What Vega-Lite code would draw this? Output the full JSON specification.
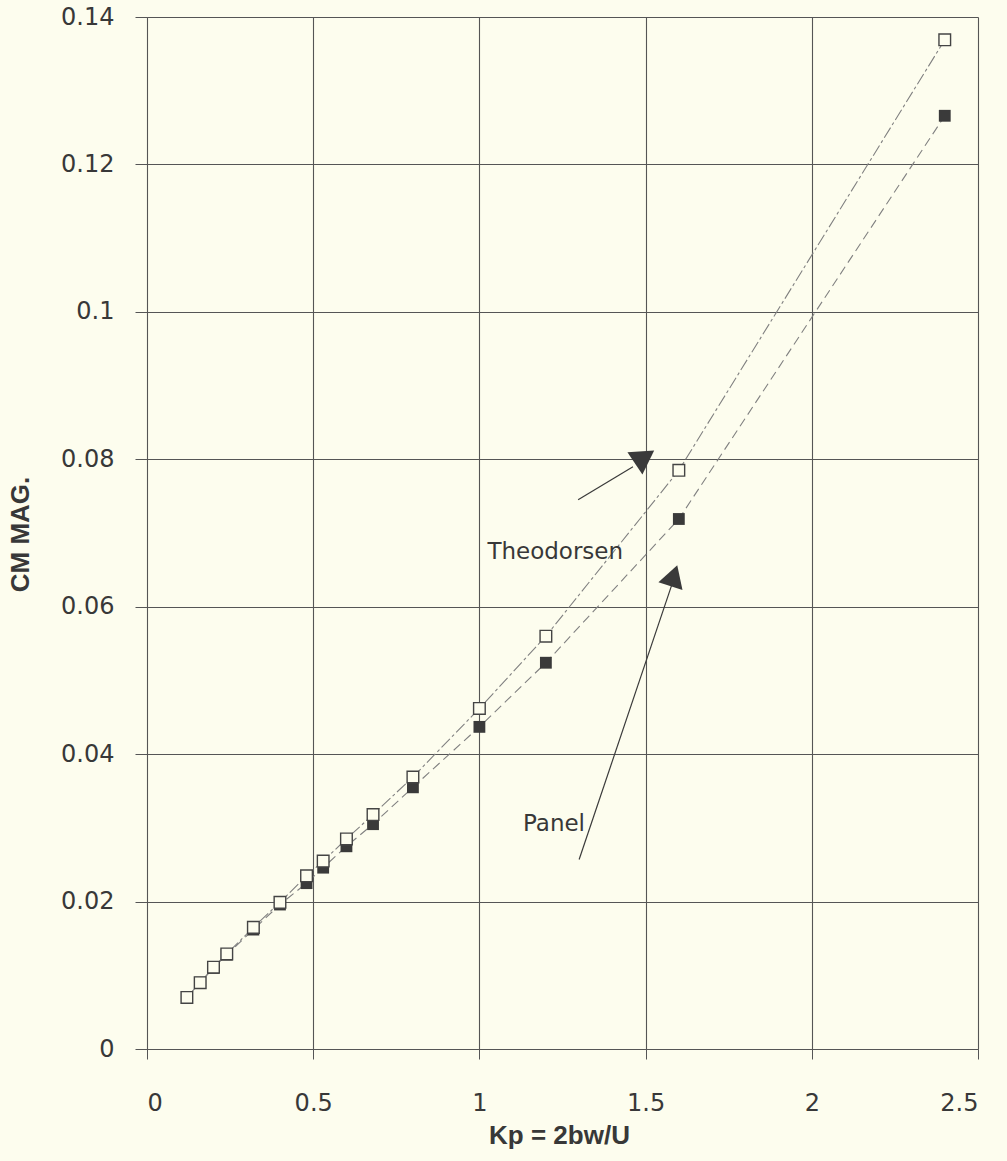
{
  "$schema": "https://vega.github.io/schema/vega-lite/v6.json",
  "width": 831,
  "height": 1032,
  "autosize": {"type": "none"},
  "padding": {"left": 147, "top": 17, "right": 29, "bottom": 112},
  "background": "#fdfdee",
  "config": {
    "view": {"stroke": null},
    "axis": {
      "grid": true,
      "gridColor": "#555555",
      "gridOpacity": 1,
      "gridWidth": 1.1,
      "domainColor": "#555555",
      "tickColor": "#555555",
      "labelFont": "DejaVu Sans",
      "labelFontSize": 24,
      "labelColor": "#383838",
      "titleFont": "Liberation Sans",
      "titleFontWeight": "bold",
      "titleFontSize": 26,
      "titleColor": "#383838"
    }
  },
  "datasets": {
    "pts": [
      {"kp": 0.12, "cm": 0.0070, "series": "Theodorsen"},
      {"kp": 0.16, "cm": 0.0090, "series": "Theodorsen"},
      {"kp": 0.20, "cm": 0.0111, "series": "Theodorsen"},
      {"kp": 0.24, "cm": 0.0129, "series": "Theodorsen"},
      {"kp": 0.32, "cm": 0.0165, "series": "Theodorsen"},
      {"kp": 0.40, "cm": 0.0199, "series": "Theodorsen"},
      {"kp": 0.48, "cm": 0.0235, "series": "Theodorsen"},
      {"kp": 0.53, "cm": 0.0255, "series": "Theodorsen"},
      {"kp": 0.60, "cm": 0.0285, "series": "Theodorsen"},
      {"kp": 0.68, "cm": 0.0318, "series": "Theodorsen"},
      {"kp": 0.80, "cm": 0.0369, "series": "Theodorsen"},
      {"kp": 1.00, "cm": 0.0462, "series": "Theodorsen"},
      {"kp": 1.20, "cm": 0.0560, "series": "Theodorsen"},
      {"kp": 1.60, "cm": 0.0785, "series": "Theodorsen"},
      {"kp": 2.40, "cm": 0.1369, "series": "Theodorsen"},
      {"kp": 0.12, "cm": 0.0070, "series": "Panel"},
      {"kp": 0.16, "cm": 0.0090, "series": "Panel"},
      {"kp": 0.20, "cm": 0.0110, "series": "Panel"},
      {"kp": 0.24, "cm": 0.0128, "series": "Panel"},
      {"kp": 0.32, "cm": 0.0162, "series": "Panel"},
      {"kp": 0.40, "cm": 0.0196, "series": "Panel"},
      {"kp": 0.48, "cm": 0.0225, "series": "Panel"},
      {"kp": 0.53, "cm": 0.0246, "series": "Panel"},
      {"kp": 0.60, "cm": 0.0275, "series": "Panel"},
      {"kp": 0.68, "cm": 0.0305, "series": "Panel"},
      {"kp": 0.80, "cm": 0.0355, "series": "Panel"},
      {"kp": 1.00, "cm": 0.0437, "series": "Panel"},
      {"kp": 1.20, "cm": 0.0524, "series": "Panel"},
      {"kp": 1.60, "cm": 0.0719, "series": "Panel"},
      {"kp": 2.40, "cm": 0.1266, "series": "Panel"}
    ],
    "arrows": [
      {"name": "Theodorsen", "x": 1.297, "y": 0.0745, "x2": 1.462, "y2": 0.0790},
      {"name": "Panel", "x": 1.300, "y": 0.0257, "x2": 1.579, "y2": 0.0630}
    ],
    "heads": [
      {"name": "Theodorsen", "x": 1.488, "y": 0.0795},
      {"name": "Panel", "x": 1.585, "y": 0.0642}
    ],
    "labels": [
      {"name": "Theodorsen", "x": 1.024, "y": 0.0674},
      {"name": "Panel", "x": 1.131, "y": 0.0305}
    ]
  },
  "layer": [
    {
      "data": {"name": "pts"},
      "transform": [{"filter": "datum.series === 'Panel'"}],
      "mark": {"type": "line", "color": "#808080", "strokeWidth": 1.1, "strokeDash": [9, 5]},
      "encoding": {
        "x": {
          "field": "kp", "type": "quantitative",
          "scale": {"domain": [0, 2.5], "nice": false, "zero": true},
          "axis": {
            "values": [0, 0.5, 1, 1.5, 2, 2.5],
            "format": "~g",
            "tickSize": 10,
            "labelPadding": 32,
            "title": "Kp = 2bw/U",
            "titleX": 412,
            "titleY": 86,
            "titleAlign": "center",
            "titleBaseline": "middle"
          }
        },
        "y": {
          "field": "cm", "type": "quantitative",
          "scale": {"domain": [0, 0.14], "nice": false},
          "axis": {
            "values": [0, 0.02, 0.04, 0.06, 0.08, 0.1, 0.12, 0.14],
            "format": "~g",
            "tickSize": 12,
            "labelPadding": 21,
            "title": "CM MAG.",
            "titleX": -127,
            "titleY": 517,
            "titleAlign": "center",
            "titleBaseline": "middle"
          }
        }
      }
    },
    {
      "data": {"name": "pts"},
      "transform": [{"filter": "datum.series === 'Theodorsen'"}],
      "mark": {"type": "line", "color": "#808080", "strokeWidth": 1.1, "strokeDash": [12, 3, 3, 3]},
      "encoding": {
        "x": {"field": "kp", "type": "quantitative"},
        "y": {"field": "cm", "type": "quantitative"}
      }
    },
    {
      "data": {"name": "pts"},
      "transform": [{"filter": "datum.series === 'Panel'"}],
      "mark": {"type": "point", "shape": "square", "filled": true, "size": 140, "color": "#3a3a3a", "opacity": 1},
      "encoding": {
        "x": {"field": "kp", "type": "quantitative"},
        "y": {"field": "cm", "type": "quantitative"}
      }
    },
    {
      "data": {"name": "pts"},
      "transform": [{"filter": "datum.series === 'Theodorsen'"}],
      "mark": {"type": "point", "shape": "square", "filled": false, "fill": "#fdfdee", "fillOpacity": 1, "size": 135, "stroke": "#444444", "strokeWidth": 1.4, "opacity": 1},
      "encoding": {
        "x": {"field": "kp", "type": "quantitative"},
        "y": {"field": "cm", "type": "quantitative"}
      }
    },
    {
      "data": {"name": "arrows"},
      "mark": {"type": "rule", "color": "#3a3a3a", "strokeWidth": 1.2},
      "encoding": {
        "x": {"field": "x", "type": "quantitative"},
        "y": {"field": "y", "type": "quantitative"},
        "x2": {"field": "x2"},
        "y2": {"field": "y2"}
      }
    },
    {
      "data": {"name": "heads"},
      "transform": [{"filter": "datum.name === 'Theodorsen'"}],
      "mark": {"type": "point", "shape": "triangle-down", "filled": true, "size": 720, "angle": -4, "color": "#3a3a3a", "opacity": 1},
      "encoding": {
        "x": {"field": "x", "type": "quantitative"},
        "y": {"field": "y", "type": "quantitative"}
      }
    },
    {
      "data": {"name": "heads"},
      "transform": [{"filter": "datum.name === 'Panel'"}],
      "mark": {"type": "point", "shape": "triangle-up", "filled": true, "size": 640, "angle": 18, "color": "#3a3a3a", "opacity": 1},
      "encoding": {
        "x": {"field": "x", "type": "quantitative"},
        "y": {"field": "y", "type": "quantitative"}
      }
    },
    {
      "data": {"name": "labels"},
      "mark": {"type": "text", "align": "left", "baseline": "middle", "font": "DejaVu Sans", "fontSize": 23, "color": "#383838"},
      "encoding": {
        "x": {"field": "x", "type": "quantitative"},
        "y": {"field": "y", "type": "quantitative"},
        "text": {"field": "name"}
      }
    }
  ]
}
